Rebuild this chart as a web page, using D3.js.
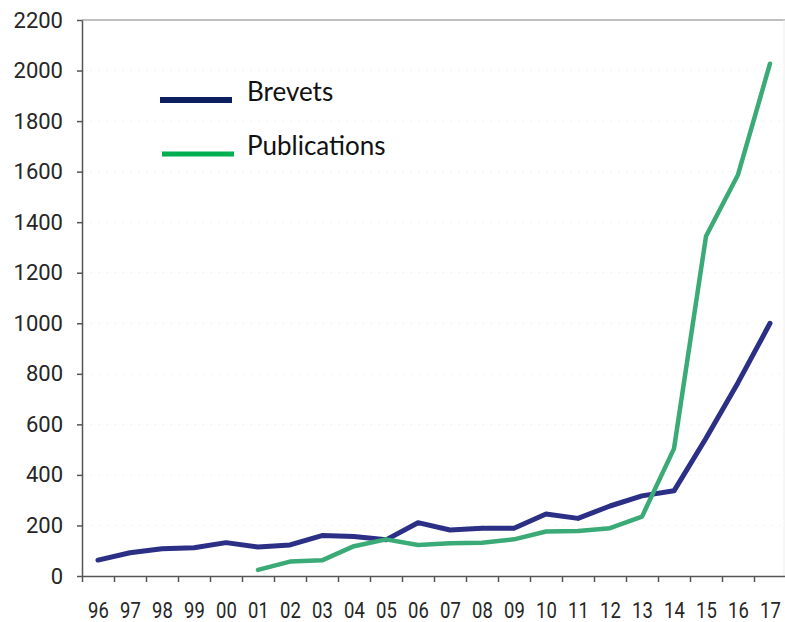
<!DOCTYPE html>
<html>
<head>
<meta charset="utf-8">
<script src="https://cdn.jsdelivr.net/npm/d3@7"></script>
<style>
  body { margin: 0; background: #fff; }
  .axis path, .axis line { stroke: #555; stroke-width: 1.5; }
  .legend text { font-family: Lato, "Open Sans", sans-serif; font-size: 26px; fill: #111; }
</style>
</head>
<body>
<div id="chart"></div>
<script>
// data
var years = ["96", "97", "98", "99", "00", "01", "02", "03", "04", "05", "06",
             "07", "08", "09", "10", "11", "12", "13", "14", "15", "16", "17"];
var brevets = [63, 92, 108, 112, 132, 115, 123, 160, 156, 143, 211,
               182, 189, 189, 245, 228, 277, 317, 337, 545, 765, 1000];
// publications start in 01
var publications = [null, null, null, null, null, 24, 57, 62, 118, 145, 123,
                    130, 132, 145, 176, 178, 189, 235, 504, 1344, 1588, 2027];
var yTicks = [0, 200, 400, 600, 800, 1000, 1200, 1400, 1600, 1800, 2000, 2200];

var svgWidth = 785;
var svgHeight = 622;

var margin = {top: 20, right: -1, bottom: 46, left: 82};
var chartWidth = svgWidth - margin.left - margin.right;
var chartHeight = svgHeight - margin.top - margin.bottom;

var axisFont = "Roboto, 'Liberation Sans', Arial, sans-serif";

var svg = d3.select("#chart")
    .append("svg")
    .attr("width", svgWidth)
    .attr("height", svgHeight);

var chartGroup = svg.append("g")
    .attr("transform", `translate(${margin.left}, ${margin.top})`);

// x: one slot per year, ticks on the slot edges
var xScale = d3.scaleLinear()
    .domain([0, years.length])
    .range([0, chartWidth]);

var yScale = d3.scaleLinear()
    .domain([0, 2200])
    .range([chartHeight, 0]);

// faint grid
chartGroup.append("g")
    .selectAll("line")
    .data(yTicks.slice(1, -1))
    .enter()
    .append("line")
    .attr("x1", 0)
    .attr("x2", chartWidth)
    .attr("y1", d => yScale(d))
    .attr("y2", d => yScale(d))
    .attr("stroke", "#f2f2f2")
    .attr("stroke-dasharray", "2,6");

// top border
chartGroup.append("line")
    .attr("x1", 0)
    .attr("x2", chartWidth)
    .attr("y1", 0)
    .attr("y2", 0)
    .attr("stroke", "#aaa")
    .attr("stroke-width", 1.5);

// right border
chartGroup.append("line")
    .attr("x1", chartWidth - 2)
    .attr("x2", chartWidth - 2)
    .attr("y1", 0)
    .attr("y2", chartHeight)
    .attr("stroke", "#eee")
    .attr("stroke-width", 1);

// y axis
var leftAxis = d3.axisLeft(yScale)
    .tickValues(yTicks)
    .tickSize(5)
    .tickPadding(14)
    .tickSizeOuter(0)
    .tickFormat(d3.format("d"));

var yAxis = chartGroup.append("g")
    .attr("class", "axis")
    .call(leftAxis)
    .attr("font-family", axisFont)
    .attr("font-size", 22);

yAxis.selectAll("text")
    .attr("fill", "#262626");

// x axis tick marks
var bottomTicks = d3.axisBottom(xScale)
    .tickValues(d3.range(0, years.length + 1))
    .tickSize(6)
    .tickSizeOuter(0)
    .tickFormat("");

chartGroup.append("g")
    .attr("class", "axis")
    .attr("transform", `translate(0, ${chartHeight})`)
    .call(bottomTicks);

// x axis labels in the middle of each slot
var bottomLabels = d3.axisBottom(xScale)
    .tickValues(d3.range(0, years.length).map(i => i + 0.5))
    .tickSize(0)
    .tickPadding(26)
    .tickFormat((d, i) => years[i]);

var xLabels = chartGroup.append("g")
    .attr("class", "axis")
    .attr("transform", `translate(0, ${chartHeight})`)
    .call(bottomLabels)
    .attr("font-family", axisFont)
    .attr("font-size", 22);

xLabels.select(".domain").remove();
// the year labels are squeezed sideways in the original
xLabels.selectAll("text")
    .attr("fill", "#262626")
    .attr("transform", "scale(0.84, 1)");

// lines
var line = d3.line()
    .defined(d => d != null)
    .x((d, i) => xScale(i + 0.5))
    .y(d => yScale(d));

chartGroup.append("path")
    .datum(brevets)
    .attr("fill", "none")
    .attr("stroke", "#2b2f85")
    .attr("stroke-width", 5)
    .attr("stroke-linejoin", "round")
    .attr("stroke-linecap", "round")
    .attr("d", line);

chartGroup.append("path")
    .datum(publications)
    .attr("fill", "none")
    .attr("stroke", "#3aab76")
    .attr("stroke-width", 4.5)
    .attr("stroke-linejoin", "round")
    .attr("stroke-linecap", "round")
    .attr("d", line);

// legend
var legendItems = [
    {name: "Brevets", color: "#0c1f5e", width: 6},
    {name: "Publications", color: "#00b050", width: 5}
];

var legend = svg.append("g")
    .attr("class", "legend")
    .attr("transform", "translate(160, 100)");

var item = legend.selectAll("g")
    .data(legendItems)
    .enter()
    .append("g")
    .attr("transform", (d, i) => `translate(${i * 2}, ${i * 54})`);

item.append("line")
    .attr("x1", 0)
    .attr("x2", 72)
    .attr("y1", 0)
    .attr("y2", 0)
    .attr("stroke", d => d.color)
    .attr("stroke-width", d => d.width);

item.append("text")
    .attr("x", (d, i) => 87 - i * 2)
    .attr("y", 1)
    .text(d => d.name);
</script>
</body>
</html>
